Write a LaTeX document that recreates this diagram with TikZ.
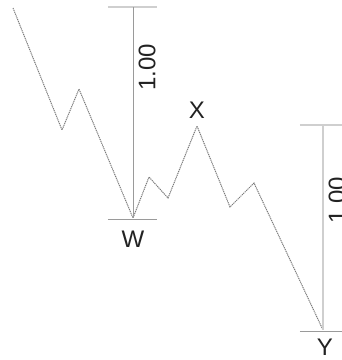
\documentclass[tikz,border=0pt]{standalone}
\usepackage{fontspec}
\setmainfont{Liberation Sans}
\definecolor{wavegray}{HTML}{7A7A7A}
\definecolor{rulegray}{HTML}{9A9A9A}
\definecolor{barlight}{HTML}{CFCFCF}
\definecolor{labtext}{HTML}{222222}
\begin{document}
\begin{tikzpicture}[x=1pt, y=-1pt,
  wave/.style={draw=wavegray, line width=1pt, dash pattern=on 1.2pt off 0.8pt},
  ruler/.style={draw=rulegray, line width=0.9pt},
  capbar/.style={draw=barlight, line width=2pt},
  basebar/.style={draw=rulegray, line width=1pt},
  ptlab/.style={text=labtext, font=\fontsize{24}{26}\selectfont, inner sep=0pt},
  ratio/.style={text=labtext, font=\fontsize{24}{26}\selectfont, inner sep=0pt, rotate=90},
]
\useasboundingbox (0,0) rectangle (342,360);
\clip (0,0) rectangle (342,360);
% ================= wave points ==============================================
\coordinate (p0) at (13, 8);
\coordinate (p1) at (62, 130);
\coordinate (p2) at (79, 89);
\coordinate (w)  at (133, 218);
\coordinate (p4) at (149, 177);
\coordinate (p5) at (168, 198);
\coordinate (x)  at (197, 126);
\coordinate (p7) at (230, 207);
\coordinate (p8) at (254, 183);
\coordinate (y)  at (323, 330);
\draw[wave] (p0) -- (p1) -- (p2) -- (w) -- (p4) -- (p5) -- (x) -- (p7) -- (p8) -- (y);
% ================= measure W (left) =========================================
\coordinate (wtop) at (133, 7);
\coordinate (wtl) at (108, 7);
\coordinate (wtr) at (157, 7);
\coordinate (wbl) at (108, 219);
\coordinate (wbr) at (157, 219);
\draw[capbar] (wtl) -- (wtr);
\draw[basebar] (wbl) -- (wbr);
\draw[ruler] (wtop) -- (w);
\node[ratio] (wratio) at (147, 67) {1.00};
% ================= measure Y (right) ========================================
\coordinate (ytop) at (323, 125);
\coordinate (ytl) at (300, 125);
\coordinate (ytr) at (342, 125);
\coordinate (ybl) at (300, 331);
\coordinate (ybr) at (342, 331);
\draw[capbar] (ytl) -- (ytr);
\draw[basebar] (ybl) -- (ybr);
\draw[draw=barlight, line width=1.4pt] (ytop) -- (y);
\node[ratio] (yratio) at (337, 200) {1.00};
% ================= point labels =============================================
\node[ptlab] (xlab) at (197, 110) {X};
\node[ptlab] (wlab) at (133, 239) {W};
\node[ptlab] (ylab) at (325, 347) {Y};
\end{tikzpicture}
\end{document}
